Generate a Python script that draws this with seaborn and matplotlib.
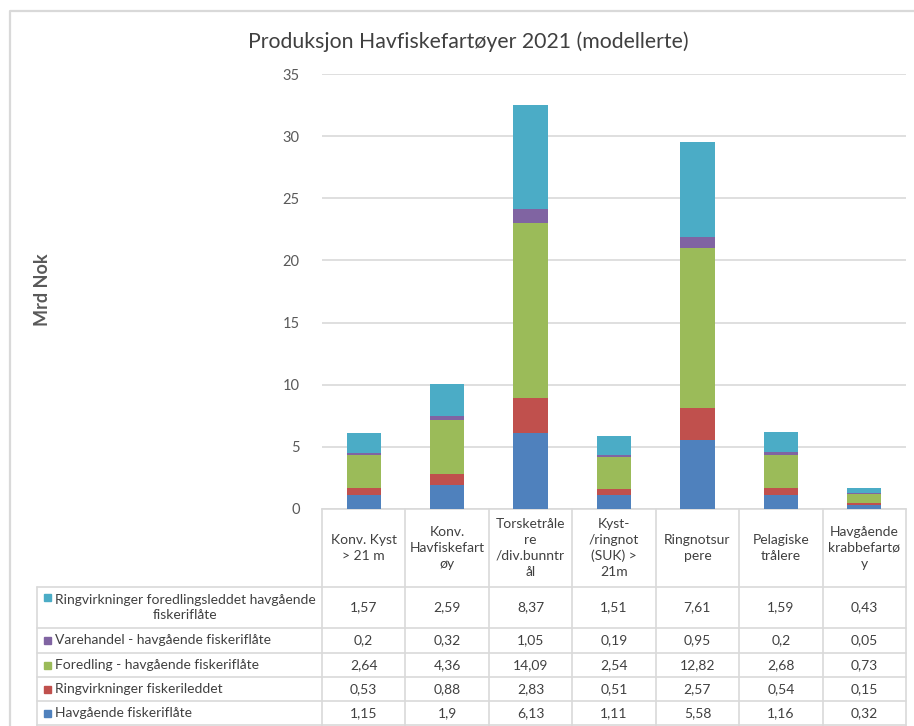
import matplotlib
matplotlib.use("Agg")
import matplotlib.pyplot as plt
from matplotlib.patches import Rectangle
import seaborn as sns
import pandas as pd
import numpy as np

categories = ["Konv. Kyst > 21 m", "Konv. Havfiskefartøy", "Torsketrålere /div.bunntrål",
              "Kyst-/ringnot (SUK) > 21m", "Ringnotsurpere", "Pelagiske trålere",
              "Havgående krabbefartøy"]
header_labels = ["Konv. Kyst\n> 21 m", "Konv.\nHavfiskefart\nøy", "Torsketråle\nre\n/div.bunntr\nål",
                 "Kyst-\n/ringnot\n(SUK) >\n21m", "Ringnotsur\npere", "Pelagiske\ntrålere",
                 "Havgående\nkrabbefartø\ny"]

# series, bottom to top of stack
series_names = ["Havgående fiskeriflåte", "Ringvirkninger fiskerileddet",
                "Foredling - havgående fiskeriflåte", "Varehandel - havgående fiskeriflåte",
                "Ringvirkninger foredlingsleddet havgående fiskeriflåte"]
table_labels = ["Havgående fiskeriflåte", "Ringvirkninger fiskerileddet",
                "Foredling - havgående fiskeriflåte", "Varehandel - havgående fiskeriflåte",
                "Ringvirkninger foredlingsleddet havgående\nfiskeriflåte"]
havgaende = [1.15, 1.9, 6.13, 1.11, 5.58, 1.16, 0.32]
ringv_fiske = [0.53, 0.88, 2.83, 0.51, 2.57, 0.54, 0.15]
foredling = [2.64, 4.36, 14.09, 2.54, 12.82, 2.68, 0.73]
varehandel = [0.2, 0.32, 1.05, 0.19, 0.95, 0.2, 0.05]
ringv_fored = [1.57, 2.59, 8.37, 1.51, 7.61, 1.59, 0.43]
series_values = [havgaende, ringv_fiske, foredling, varehandel, ringv_fored]
colors = ["#4F81BD", "#C0504D", "#9BBB59", "#8064A2", "#4BACC6"]

title = "Produksjon Havfiskefartøyer 2021 (modellerte)"
ylabel = "Mrd Nok"
yticks = [0, 5, 10, 15, 20, 25, 30, 35]

sns.set_theme(style="white")
plt.rcParams['font.family'] = ['Lato', 'DejaVu Sans']

W, H = 914, 726
fig = plt.figure(figsize=(W / 100, H / 100), dpi=100)
fig.patch.set_facecolor("white")

X0, X1, YB, YT = 322, 906, 509, 74
ax = fig.add_axes([X0 / W, 1 - YB / H, (X1 - X0) / W, (YB - YT) / H])

vals = np.array(series_values)
cum = np.cumsum(vals, axis=0)
for i in range(len(series_names) - 1, -1, -1):
    df = pd.DataFrame({"cat": categories, "val": cum[i]})
    sns.barplot(data=df, x="cat", y="val", color=colors[i], width=0.41,
                saturation=1, linewidth=0, ax=ax, zorder=3)

ax.set_ylim(0, 35)
ax.set_xlim(-0.5, len(categories) - 0.5)
ax.set_yticks(yticks)
ax.set_yticklabels([str(t) for t in yticks])
ax.tick_params(axis="y", length=0, pad=16, labelsize=10.5, labelcolor="#595959")
ax.set_xticks([])
ax.set_xlabel("")
ax.set_ylabel("")
for s in ["left", "right", "top"]:
    ax.spines[s].set_visible(False)
ax.spines["bottom"].set_color("#D9D9D9")
ax.spines["bottom"].set_linewidth(1.2)
ax.yaxis.grid(True, color="#D9D9D9", linewidth=1.2, zorder=0)
ax.set_axisbelow(True)
ax.patch.set_alpha(0)

# overlay in pixel coordinates
ov = fig.add_axes([0, 0, 1, 1], zorder=-1)
ov.set_xlim(0, W)
ov.set_ylim(H, 0)
ov.axis("off")

# outer frame
ov.plot([10, 10, W + 5], [H + 5, 11, 11], color="#D9D9D9", lw=1.6)

ov.text(468, 42, title, ha="center", va="center", fontsize=15.3, color="#404040")
ov.text(43, 290, ylabel, ha="center", va="center", rotation=90, fontsize=13,
        fontweight="bold", color="#595959")

gc = "#D9D9D9"
n = len(categories)
cw = (X1 - X0) / n
col_edges = [X0 + cw * k for k in range(n + 1)]
row_edges = [587, 628, 653, 677, 701, 725]
TL = 37
# vertical lines
for xe in col_edges:
    ov.plot([xe, xe], [YB, H], color=gc, lw=1.2)
ov.plot([TL, TL], [row_edges[0], H], color=gc, lw=1.2)
for ye in row_edges:
    ov.plot([TL, X1], [ye, ye], color=gc, lw=1.2)

tc = "#404040"
fs = 10
for k, lab in enumerate(header_labels):
    ov.text(X0 + cw * (k + 0.5), 548, lab, ha="center", va="center", fontsize=fs,
            color=tc, linespacing=1.4)

rows_top_down = list(range(len(series_names) - 1, -1, -1))
for r, si in enumerate(rows_top_down):
    yc = (row_edges[r] + row_edges[r + 1]) / 2
    if r == 0:
        ov.add_patch(Rectangle((44, yc - 10 - 3.5), 7, 7, color=colors[si]))
    else:
        ov.add_patch(Rectangle((44, yc - 3.5), 7, 7, color=colors[si]))
    ov.text(55, yc, table_labels[si], ha="left", va="center", fontsize=fs, color=tc,
            multialignment="center", linespacing=1.3)
    for k in range(n):
        v = series_values[si][k]
        s = f"{v:g}".replace(".", ",")
        ov.text(X0 + cw * (k + 0.5), yc, s, ha="center", va="center", fontsize=fs, color=tc)

fig.savefig("out.png", dpi=100, facecolor="white")
